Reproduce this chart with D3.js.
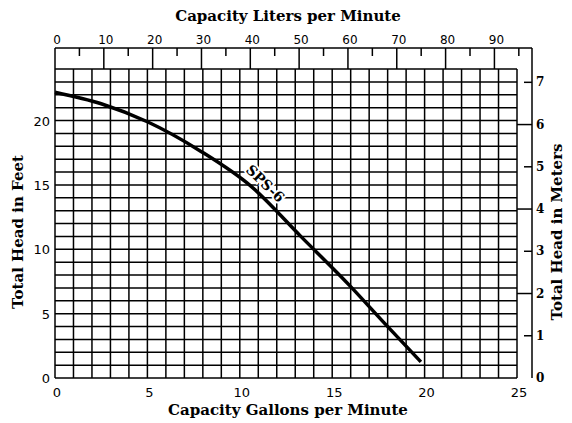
<!DOCTYPE html>
<html>
<head>
<meta charset="utf-8">
<script src="https://cdn.jsdelivr.net/npm/d3@7"></script>
<style>
  body { margin: 0; background: #fff; }
  text { fill: #000; }
</style>
</head>
<body>
<svg id="chart" width="572" height="423"></svg>
<script>
// pump curve
const curveGpm = [0, 2.5, 5, 7.9, 10.6, 13.3, 16, 17.8, 19.8];
const curveFeet = [22.2, 21.3, 19.9, 17.6, 14.9, 11.0, 7.1, 4.3, 1.25];
const curveName = "SPS-6";

const gpmTicks = [0, 5, 10, 15, 20, 25];
const feetTicks = [0, 5, 10, 15, 20];
const literTicks = [0, 10, 20, 30, 40, 50, 60, 70, 80, 90];
const meterTicks = [0, 1, 2, 3, 4, 5, 6, 7];

const svg = d3.select("#chart");
const font = "'DejaVu Serif', serif";
const tickFont = "'DejaVu Sans', sans-serif";

const x = d3.scaleLinear().domain([0, 25]).range([55, 517]);
const y = d3.scaleLinear().domain([0, 24]).range([378, 69]);
const xl = d3.scaleLinear().domain([0, 25 * 3.785]).range([55, 517]);
const ym = d3.scaleLinear().domain([0, 24 / 3.2808]).range([378, 69]);

const boxTop = 48, axisRight = 532;
const grid = svg.append("g").attr("stroke", "#000").attr("stroke-width", 1.5);

// vertical grid every gpm
grid.selectAll(".v")
  .data(d3.range(0, 26))
  .join("line")
  .attr("x1", d => x(d)).attr("x2", d => x(d))
  .attr("y1", y(24)).attr("y2", y(0));

// horizontal grid every foot
grid.selectAll(".h")
  .data(d3.range(0, 25))
  .join("line")
  .attr("x1", x(0)).attr("x2", x(25))
  .attr("y1", d => y(d)).attr("y2", d => y(d));

// top liters strip
const strip = svg.append("g").attr("stroke", "#000").attr("stroke-width", 1.5);
strip.append("line").attr("x1", x(0)).attr("x2", axisRight).attr("y1", boxTop).attr("y2", boxTop);
strip.append("line").attr("x1", x(0)).attr("x2", x(0)).attr("y1", boxTop).attr("y2", y(24));
strip.selectAll(".lt")
  .data(literTicks.filter(d => d > 0))
  .join("line")
  .attr("x1", d => xl(d)).attr("x2", d => xl(d))
  .attr("y1", boxTop).attr("y2", y(24));
strip.selectAll(".lm")
  .data(literTicks.map(d => d + 5))
  .join("line")
  .attr("x1", d => xl(d)).attr("x2", d => xl(d))
  .attr("y1", boxTop).attr("y2", boxTop + 8);

svg.append("g").selectAll("text")
  .data(literTicks)
  .join("text")
  .attr("x", d => xl(d) + 2)
  .attr("y", 44)
  .attr("text-anchor", "middle")
  .attr("font-family", tickFont)
  .attr("font-size", 12)
  .text(d => d);

// right meters axis
const right = svg.append("g").attr("stroke", "#000").attr("stroke-width", 1.5);
right.append("line").attr("x1", axisRight).attr("x2", axisRight).attr("y1", boxTop).attr("y2", y(0));
right.selectAll(".mt")
  .data(meterTicks.filter(d => d > 0))
  .join("line")
  .attr("x1", d => d % 2 === 0 ? x(25) : axisRight - 8)
  .attr("x2", axisRight)
  .attr("y1", d => ym(d)).attr("y2", d => ym(d));

svg.append("g").selectAll("text")
  .data(meterTicks)
  .join("text")
  .attr("x", axisRight + 4)
  .attr("y", d => ym(d) + 4)
  .attr("font-family", font)
  .attr("font-weight", "bold")
  .attr("font-size", 12)
  .text(d => d);

// left feet labels
svg.append("g").selectAll("text")
  .data(feetTicks)
  .join("text")
  .attr("x", 50)
  .attr("y", d => y(d) + 5)
  .attr("text-anchor", "end")
  .attr("font-family", tickFont)
  .attr("font-size", 13)
  .text(d => d);

// bottom gpm labels
svg.append("g").selectAll("text")
  .data(gpmTicks)
  .join("text")
  .attr("x", d => x(d) + 2)
  .attr("y", 397)
  .attr("text-anchor", "middle")
  .attr("font-family", tickFont)
  .attr("font-size", 13)
  .text(d => d);

// axis titles
const title = (t, tx, ty, rot) => svg.append("text")
  .attr("transform", `translate(${tx},${ty}) rotate(${rot})`)
  .attr("text-anchor", "middle")
  .attr("font-family", font)
  .attr("font-weight", "bold")
  .attr("font-size", 15)
  .text(t);

title("Capacity Liters per Minute", 288, 21, 0);
title("Capacity Gallons per Minute", 288, 415, 0);
title("Total Head in Feet", 23, 232, -90);
title("Total Head in Meters", 562, 232, -90);

// the curve
const pts = curveGpm.map((g, i) => [g, curveFeet[i]]);
svg.append("path")
  .datum(pts)
  .attr("fill", "none")
  .attr("stroke", "#000")
  .attr("stroke-width", 3.5)
  .attr("d", d3.line().x(d => x(d[0])).y(d => y(d[1])).curve(d3.curveMonotoneX));

svg.append("text")
  .attr("transform", `translate(${x(11.3) - 2},${y(13.9) - 12}) rotate(44)`)
  .attr("text-anchor", "middle")
  .attr("font-family", font)
  .attr("font-weight", "bold")
  .attr("font-size", 14)
  .attr("stroke", "#fff")
  .attr("stroke-width", 4)
  .attr("paint-order", "stroke")
  .text(curveName);
</script>
</body>
</html>
